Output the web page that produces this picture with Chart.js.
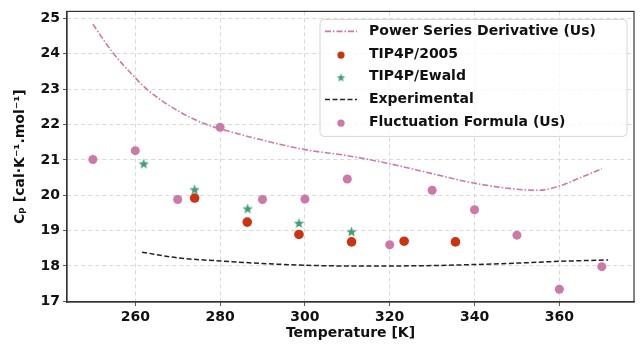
<!DOCTYPE html>
<html>
<head>
<meta charset="utf-8">
<script src="https://cdn.jsdelivr.net/npm/chart.js@4/dist/chart.umd.min.js"></script>
<style>
  html, body { margin: 0; padding: 0; background: #fff; }
  #wrap { width: 644px; height: 348px; }
</style>
</head>
<body>
<div id="wrap"><canvas id="cpChart"></canvas></div>
<script>
// values
var powerT  = [250, 254.4, 260, 262.7, 270, 276.4, 280, 290, 300, 310, 320, 330, 340, 350, 355, 360, 365, 370];
var powerCp = [24.84, 24.08, 23.32, 23.00, 22.39, 22.02, 21.88, 21.56, 21.29, 21.12, 20.89, 20.61, 20.34, 20.17, 20.14, 20.26, 20.50, 20.75];

var tip2005T  = [274, 286.4, 298.6, 311, 323.4, 335.5];
var tip2005Cp = [19.92, 19.24, 18.89, 18.68, 18.70, 18.68];

var ewaldT  = [262, 274, 286.5, 298.6, 311];
var ewaldCp = [20.88, 20.15, 19.61, 19.20, 18.96];

var expT  = [261.6, 270, 280, 290, 300, 310, 320, 330, 340, 350, 360, 371.5];
var expCp = [18.39, 18.23, 18.14, 18.07, 18.02, 18.00, 18.00, 18.01, 18.04, 18.08, 18.13, 18.17];

var fluctT  = [250, 260, 270, 280, 290, 300, 310, 320, 330, 340, 350, 360, 370];
var fluctCp = [21.01, 21.26, 19.88, 21.92, 19.88, 19.89, 20.46, 18.60, 20.14, 19.59, 18.87, 17.34, 17.98];

var xTicks = [260, 280, 300, 320, 340, 360];
var yTicks = [17, 18, 19, 20, 21, 22, 23, 24, 25];

var PINK = '#cc79a7', RED = '#cc3311', GREEN = '#3d9e78', BLACK = '#222222';
var FONT = "'DejaVu Sans', sans-serif";

function toXY(xs, ys){
  return xs.map(function(x, i){ return {x: x, y: ys[i]}; });
}

// matplotlib-like filled 5 point star
function makeStar(r, color){
  var c = document.createElement('canvas');
  var s = Math.ceil(2 * r + 2);
  c.width = s; c.height = s;
  var g = c.getContext('2d');
  g.fillStyle = color;
  g.beginPath();
  for (var i = 0; i < 10; i++){
    var rr = (i % 2 == 0) ? r : r * 0.42;
    var a = -Math.PI / 2 + i * Math.PI / 5;
    var px = s / 2 + rr * Math.cos(a), py = s / 2 + rr * Math.sin(a);
    if (i == 0) g.moveTo(px, py); else g.lineTo(px, py);
  }
  g.closePath();
  g.fill();
  return c;
}
var starBig = makeStar(5.5, GREEN);
var starSmall = makeStar(4.5, GREEN);

// box frame + legend inside the plot, top right
var frameLegend = {
  id: 'frameLegend',
  afterDraw: function(chart){
    var ctx = chart.ctx, a = chart.chartArea;
    ctx.save();
    ctx.strokeStyle = '#333'; ctx.lineWidth = 1.2; ctx.setLineDash([]);
    ctx.strokeRect(a.left, a.top, a.right - a.left, a.bottom - a.top);

    var bx = a.right - 314, by = a.top + 8, bw = 307, bh = 117, r = 4;
    ctx.beginPath();
    ctx.moveTo(bx + r, by);
    ctx.arcTo(bx + bw, by, bx + bw, by + bh, r);
    ctx.arcTo(bx + bw, by + bh, bx, by + bh, r);
    ctx.arcTo(bx, by + bh, bx, by, r);
    ctx.arcTo(bx, by, bx + bw, by, r);
    ctx.closePath();
    ctx.fillStyle = 'rgba(255,255,255,0.8)';
    ctx.fill();
    ctx.strokeStyle = '#d6d6d6'; ctx.lineWidth = 1;
    ctx.stroke();

    var ds = chart.data.datasets;
    ctx.font = 'bold 14px ' + FONT;
    ctx.textBaseline = 'middle';
    ctx.textAlign = 'left';
    for (var i = 0; i < ds.length; i++){
      var y = by + 12 + i * 22.7;
      var x0 = bx + 5, x1 = bx + 37, xm = (x0 + x1) / 2;
      var d = ds[i];
      if (d.showLine){
        ctx.beginPath();
        ctx.strokeStyle = d.borderColor; ctx.lineWidth = d.borderWidth;
        ctx.setLineDash(d.borderDash);
        ctx.moveTo(x0, y); ctx.lineTo(x1, y); ctx.stroke();
        ctx.setLineDash([]);
      } else if (d.pointStyle == 'circle'){
        ctx.beginPath();
        ctx.fillStyle = d.backgroundColor;
        ctx.arc(xm, y + 1, 3.6, 0, Math.PI * 2); ctx.fill();
      } else {
        ctx.drawImage(starSmall, xm - starSmall.width / 2, y + 1 - starSmall.height / 2);
      }
      ctx.fillStyle = '#111';
      ctx.fillText(d.label, bx + 49, y);
    }
    ctx.restore();
  }
};

var ctx = document.getElementById('cpChart').getContext('2d');
var myChart = new Chart(ctx, {
  type: 'scatter',
  plugins: [frameLegend],
  data: {
    datasets: [{
      label: 'Power Series Derivative (Us)',
      data: toXY(powerT, powerCp),
      showLine: true,
      borderColor: PINK,
      borderWidth: 1.6,
      borderDash: [6, 2, 1.5, 2],
      pointRadius: 0,
      cubicInterpolationMode: 'monotone',
      order: 5
    },
    {
      label: 'TIP4P/2005',
      data: toXY(tip2005T, tip2005Cp),
      pointStyle: 'circle',
      backgroundColor: RED,
      borderWidth: 0,
      pointRadius: 4.8,
      order: 2
    },
    {
      label: 'TIP4P/Ewald',
      data: toXY(ewaldT, ewaldCp),
      pointStyle: starBig,
      backgroundColor: GREEN,
      borderWidth: 0,
      order: 1
    },
    {
      label: 'Experimental',
      data: toXY(expT, expCp),
      showLine: true,
      borderColor: BLACK,
      borderWidth: 1.5,
      borderDash: [5, 2.5],
      pointRadius: 0,
      cubicInterpolationMode: 'monotone',
      order: 4
    },
    {
      label: 'Fluctuation Formula (Us)',
      data: toXY(fluctT, fluctCp),
      pointStyle: 'circle',
      backgroundColor: PINK,
      borderWidth: 0,
      pointRadius: 4.5,
      order: 3
    }]
  },
  options: {
    responsive: true,
    maintainAspectRatio: false,
    animation: false,
    layout: { padding: { left: 0, top: 5, right: 10, bottom: 0 } },
    scales: {
      x: {
        type: 'linear',
        min: 243.9,
        max: 377.6,
        afterBuildTicks: function(s){ s.ticks = xTicks.map(function(v){ return {value: v}; }); },
        afterFit: function(s){ s.height = 46; },
        grid: { color: '#cfcfcf', lineWidth: 0.8, tickLength: 4, tickColor: '#333', tickBorderDash: [10, 0] },
        border: { display: true, color: '#333', width: 1.2, dash: [4, 3] },
        ticks: { color: '#111', padding: 3, maxRotation: 0, font: { family: FONT, size: 14, weight: 'bold' } },
        title: { display: true, text: 'Temperature [K]', color: '#111', padding: { top: 0, bottom: 6 }, font: { family: FONT, size: 14, weight: 'bold' } }
      },
      y: {
        min: 16.98,
        max: 25.2,
        afterBuildTicks: function(s){ s.ticks = yTicks.map(function(v){ return {value: v}; }); },
        afterFit: function(s){ s.width = 67; },
        grid: { color: '#cfcfcf', lineWidth: 0.8, tickLength: 4, tickColor: '#333', tickBorderDash: [10, 0] },
        border: { display: true, color: '#333', width: 1.2, dash: [4, 3] },
        ticks: { color: '#111', padding: 3, font: { family: FONT, size: 14, weight: 'bold' } },
        title: { display: true, text: 'Cₚ [cal·K⁻¹.mol⁻¹]', color: '#111', padding: { top: 12, bottom: 0 }, font: { family: FONT, size: 14, weight: 'bold' } }
      }
    },
    plugins: {
      legend: { display: false },
      title: { display: false },
      tooltip: { enabled: false }
    }
  }
});
</script>
</body>
</html>
